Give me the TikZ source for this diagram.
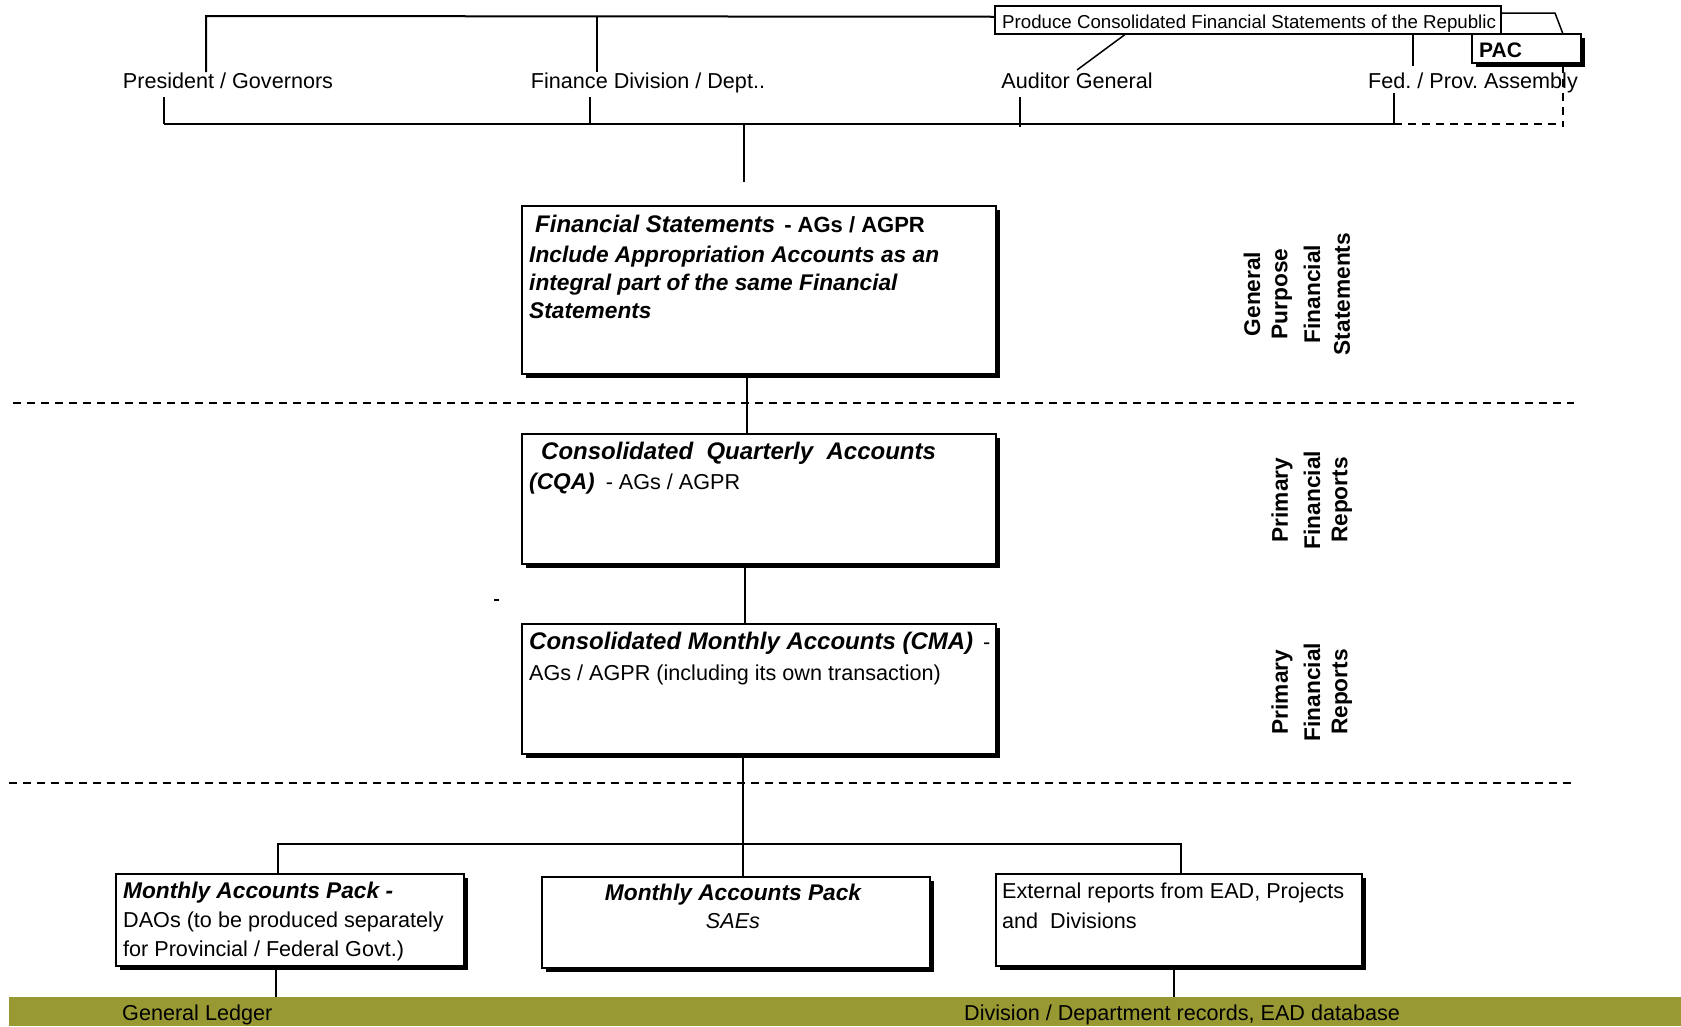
\documentclass[tikz,border=0pt]{standalone}
\usepackage{fontspec}
\setmainfont{Liberation Sans}
\usetikzlibrary{shadows,calc}
\definecolor{olivebar}{RGB}{153,153,51}
\newcommand\fbody{\fontsize{21.6}{26}\selectfont}
\newcommand\fbi{\fontsize{24}{28}\selectfont\bfseries\itshape}
\newcommand\fbis{\fontsize{22.7}{27}\selectfont\bfseries\itshape}
\newcommand\fsmall{\fontsize{18.7}{22}\selectfont}
\newcommand\fside{\fontsize{22.7}{26}\selectfont\bfseries}
\newcommand\fpac{\fontsize{21}{25}\selectfont\bfseries}
\frenchspacing
\begin{document}
\frenchspacing
\begin{tikzpicture}[x=1pt,y=1pt,
  conn/.style={line width=2pt},
  thinconn/.style={line width=1.5pt},
  dline/.style={line width=2pt, dash pattern=on 8pt off 6pt},
  sbox/.style={draw, line width=2pt, fill=white, anchor=north west, inner sep=0pt, outer sep=0pt,
     drop shadow={shadow xshift=4pt, shadow yshift=-4pt, opacity=1, fill=black}},
  txt/.style={inner sep=0pt, anchor=base west},
  lab/.style={inner sep=0pt, anchor=base, font=\fbody},
  side/.style={inner sep=0pt, rotate=90, font=\fside}]
\useasboundingbox (0,0) rectangle (1681,-1026);
\fill[white] (0,0) rectangle (1681,-1026);

% bottom bar
\fill[olivebar] (9,-997) rectangle (1681,-1026);

% dashed separators
\draw[dline] (13,-403) -- (1574,-403);
\draw[dline] (9,-783) -- (1572,-783);

% boxes
\node[sbox, minimum width=474pt, minimum height=168pt] (fs) at (522,-206) {};
\node[sbox, minimum width=474pt, minimum height=130pt] (cqa) at (522,-434) {};
\node[sbox, minimum width=474pt, minimum height=130pt] (cma) at (522,-624) {};
\node[sbox, minimum width=348pt, minimum height=92pt] (map) at (116,-874) {};
\node[sbox, minimum width=388pt, minimum height=91pt] (sae) at (542,-877) {};
\node[sbox, minimum width=366pt, minimum height=92pt] (ext) at (996,-874) {};
\node[sbox, line width=1.5pt, minimum width=109pt, minimum height=29pt] (pac) at (1472,-34) {};
\node[draw, line width=1.5pt, fill=white, anchor=north west, inner sep=0pt, minimum width=506pt, minimum height=28pt] (prod) at (994,-5) {};
\node[txt, font=\fsmall] (prodt) at (1002,-28) {Produce Consolidated Financial Statements of the Republic};

% top labels
\node[lab] (pres) at (228,-88) {President / Governors};
\node[lab] (fin) at (648,-88) {Finance Division / Dept..};
\node[lab] (aud) at (1077,-88) {Auditor General};
\node[lab] (fed) at (1473,-88) {Fed. / Prov. Assembly};
\node[txt, font=\fpac] (pact) at (1479,-57) {PAC};

% top connectors
\draw[conn] ([yshift=3pt]prod.west) -- (206,-16) -- (206,-72);
\draw[conn] (597,-16) -- (597,-72);
\draw[thinconn] ($(prod.south west)+(131,0)$) -- (1077,-70);
\draw[thinconn] ($(prod.south west)+(419,0)$) -- (1413,-66);
\draw[thinconn] ([yshift=-8pt]prod.north east) -- (1555,-13) -- ($(pac.north west)+(91,0)$);
\draw[thinconn] (164,-97) -- (164,-124);
\draw[thinconn] (590,-97) -- (590,-124);
\draw[thinconn] (1020,-97) -- (1020,-127);
\draw[thinconn] (1394,-93) -- (1394,-124);
\draw[conn] (164,-124) -- (1394,-124);
\draw[dline] (1394,-124) -- (1563,-124);
\draw[dline] ($(pac.south west)+(91,-2)$) -- (1563,-127);
\draw[conn] (744,-124) -- (744,-182);

% vertical chain
\draw[conn] ($(fs.south west)+(225,-2)$) -- ($(cqa.north west)+(225,0)$);
\draw[conn] ($(cqa.south west)+(223,-2)$) -- ($(cma.north west)+(223,0)$);
\draw[conn] ($(cma.south west)+(221,-2)$) -- ($(sae.north west)+(201,0)$);
\draw[conn] ($(map.north west)+(162,0)$) -- (278,-844) -- (1181,-844) -- ($(ext.north west)+(185,0)$);
\draw[conn] ($(map.south west)+(160,-2)$) -- (276,-997);
\draw[conn] ($(ext.south west)+(178,-2)$) -- (1174,-997);

% stray dash
\draw[line width=2pt] (494,-600) -- (499,-600);

% FS text
\node[txt] (fs1) at (535,-232) {\fbi Financial Statements\hspace{9pt}{\fontsize{22}{26}\selectfont\upshape - AGs / AGPR}};
\node[txt, font=\fbis] (fs2) at (529,-262) {Include Appropriation Accounts as an};
\node[txt, font=\fbis] (fs3) at (529,-290) {integral part of the same Financial};
\node[txt, font=\fbis] (fs4) at (529,-318) {Statements};

% CQA text
\node[txt, font=\fbi] (cq1) at (541,-459) {Consolidated\ \ Quarterly\ \ Accounts};
\node[txt] (cq2) at (529,-489) {{\fbis (CQA)}\hspace{11pt}{\fbody - AGs / AGPR}};

% CMA text
\node[txt] (cm1) at (529,-649) {{\fbi Consolidated Monthly Accounts (CMA)}\hspace{10pt}{\fbody -}};
\node[txt, font=\fbody] (cm2) at (529,-680) {AGs / AGPR (including its own transaction)};

% bottom boxes text
\node[txt, font=\fbis] (mp1) at (123,-898) {Monthly Accounts Pack -};
\node[txt, font=\fbody] (mp2) at (123,-927) {DAOs (to be produced separately};
\node[txt, font=\fbody] (mp3) at (123,-956) {for Provincial / Federal Govt.)};
\node[lab, font=\fbis] (sa1) at (733,-900) {Monthly Accounts Pack};
\node[lab, font=\fbody\itshape] (sa2) at (733,-928) {SAEs};
\node[txt, font=\fbody] (ex1) at (1002,-898) {External reports from EAD, Projects};
\node[txt, font=\fbody] (ex2) at (1002,-928) {and\ \ Divisions};

% bar text
\node[txt, font=\fbody] (gl) at (122,-1020) {General Ledger};
\node[txt, font=\fbody] (ddr) at (964,-1020) {Division / Department records, EAD database};

% side labels
\node[side] (g1) at (1252,-294) {General};
\node[side] (g2) at (1282,-294) {Purpose};
\node[side] (g3) at (1312,-294) {Financial};
\node[side] (g4) at (1342,-294) {Statements};
\node[side] (p1) at (1282,-500) {Primary};
\node[side] (p2) at (1312,-500) {Financial};
\node[side] (p3) at (1342,-500) {Reports};
\node[side] (q1) at (1282,-692) {Primary};
\node[side] (q2) at (1312,-692) {Financial};
\node[side] (q3) at (1342,-692) {Reports};
\end{tikzpicture}
\end{document}
